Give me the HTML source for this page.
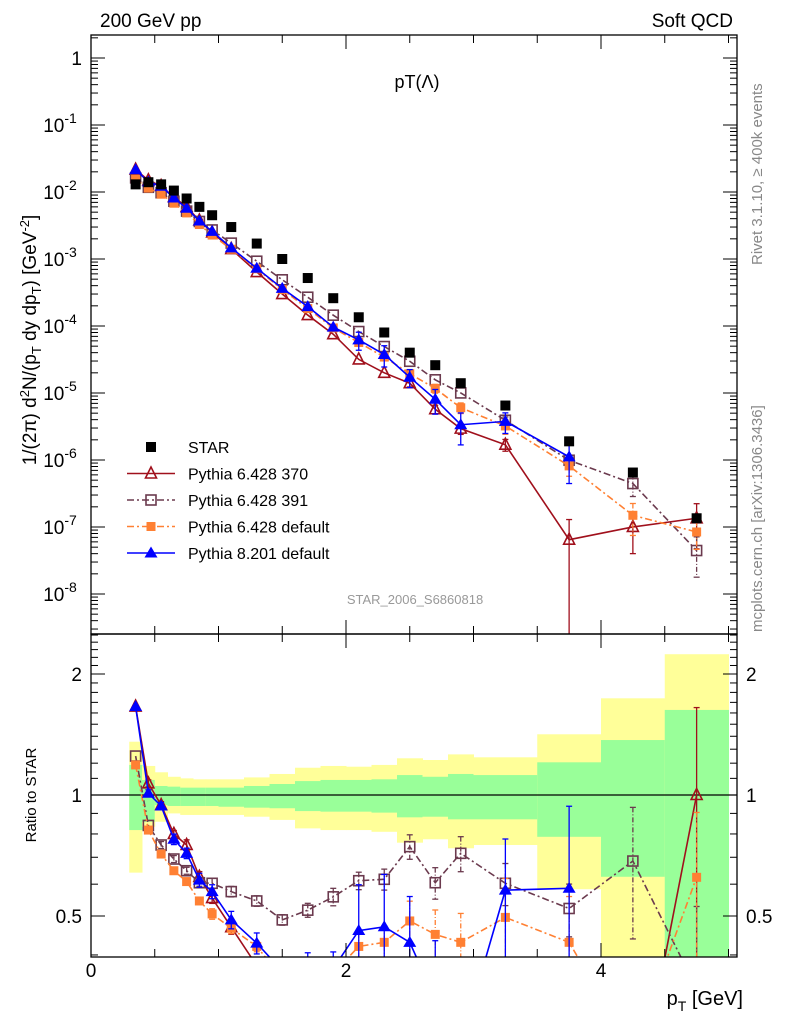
<!DOCTYPE html>
<html><head><meta charset="utf-8"><style>
html,body{margin:0;background:#fff;overflow:hidden;width:786px;height:1024px}
svg{display:block;font-family:"Liberation Sans",sans-serif}
</style></head><body>
<svg id="c" width="786" height="1024" viewBox="0 0 786 1024" xmlns="http://www.w3.org/2000/svg">
<defs>
<clipPath id="cm"><rect x="91" y="35" width="646" height="599"/></clipPath>
<clipPath id="cr"><rect x="91" y="634" width="646" height="323"/></clipPath>
</defs>
<g id="bands" clip-path="url(#cr)"></g>
<g id="ratio" clip-path="url(#cr)"></g>
<g id="main" clip-path="url(#cm)"></g>
<g id="axes"></g>
<text x="100" y="27" font-size="19">200 GeV pp</text>
<text x="733" y="27" font-size="19" text-anchor="end">Soft QCD</text>
<text x="417" y="88" font-size="18" text-anchor="middle">pT(Λ)</text>
<text x="415" y="604" font-size="13" fill="#999" text-anchor="middle">STAR_2006_S6860818</text>
<text transform="translate(762,265) rotate(-90)" font-size="15" fill="#888">Rivet 3.1.10, ≥ 400k events</text>
<text transform="translate(762,632) rotate(-90)" font-size="15" fill="#888">mcplots.cern.ch [arXiv:1306.3436]</text>
<text transform="translate(36,340) rotate(-90)" font-size="19" text-anchor="middle">1/(2π) d<tspan dy="-7" font-size="13">2</tspan><tspan dy="7">N/(p</tspan><tspan dy="5" font-size="13">T</tspan><tspan dy="-5"> dy dp</tspan><tspan dy="5" font-size="13">T</tspan><tspan dy="-5">) [GeV</tspan><tspan dy="-7" font-size="13">-2</tspan><tspan dy="7">]</tspan></text>
<text transform="translate(36,795) rotate(-90)" font-size="15" text-anchor="middle">Ratio to STAR</text>
<text x="743" y="1005" font-size="20" text-anchor="end">p<tspan dy="6" font-size="14">T</tspan><tspan dy="-6"> [GeV]</tspan></text>
<g id="legend"></g>
</svg>
<script>
const pt=[0.35,0.45,0.55,0.65,0.75,0.85,0.95,1.1,1.3,1.5,1.7,1.9,2.1,2.3,2.5,2.7,2.9,3.25,3.75,4.25,4.75];
const binLo=[0.3,0.4,0.5,0.6,0.7,0.8,0.9,1.0,1.2,1.4,1.6,1.8,2.0,2.2,2.4,2.6,2.8,3.0,3.5,4.0,4.5];
const binHi=[0.4,0.5,0.6,0.7,0.8,0.9,1.0,1.2,1.4,1.6,1.8,2.0,2.2,2.4,2.6,2.8,3.0,3.5,4.0,4.5,5.0];
const star=[1.3e-2,1.4e-2,1.3e-2,1.05e-2,8e-3,6e-3,4.5e-3,3e-3,1.7e-3,1.0e-3,5.2e-4,2.6e-4,1.35e-4,8e-5,4e-5,2.6e-5,1.4e-5,6.5e-6,1.9e-6,6.5e-7,1.35e-7];
const greenUp=[1.188,1.09,1.053,1.049,1.043,1.043,1.043,1.043,1.053,1.065,1.083,1.09,1.09,1.094,1.121,1.11,1.128,1.121,1.206,1.37,1.628];
const greenDn=[0.818,0.858,0.944,0.939,0.939,0.939,0.939,0.935,0.93,0.927,0.912,0.909,0.909,0.904,0.88,0.883,0.87,0.87,0.787,0.626,0.2];
const yellowUp=[1.357,1.181,1.139,1.11,1.1,1.094,1.094,1.094,1.106,1.128,1.169,1.181,1.176,1.188,1.234,1.222,1.262,1.241,1.416,1.74,2.24];
const yellowDn=[0.641,0.834,0.858,0.9,0.892,0.892,0.892,0.892,0.883,0.867,0.826,0.818,0.818,0.81,0.761,0.776,0.737,0.751,0.583,0.3,0.2];
const r370=[1.66,1.069,0.944,0.8,0.751,0.626,0.554,0.469,0.376,0.3,0.28,0.29,0.235,0.25,0.35,0.22,0.21,0.26,0.034,0.154,1.0];
const e370=[0.01,0.02,0.02,0.02,0.03,0.03,0.03,0.04,0.05,0.05,0.06,0.07,0.08,0.1,0.12,0.15,0.18,0.2,1.0,0.6,0.65];
const r391=[1.25,0.84,0.751,0.693,0.648,0.605,0.603,0.575,0.545,0.489,0.517,0.558,0.612,0.617,0.744,0.605,0.716,0.603,0.522,0.685,0.33];
const e391=[0.01,0.01,0.02,0.02,0.02,0.02,0.03,0.03,0.03,0.03,0.04,0.05,0.05,0.06,0.07,0.09,0.1,0.12,0.15,0.36,0.6];
const rDef=[1.188,0.818,0.713,0.648,0.609,0.545,0.506,0.466,0.42,0.35,0.35,0.36,0.42,0.43,0.486,0.45,0.43,0.496,0.43,0.23,0.624];
const eDef=[0.01,0.01,0.02,0.02,0.02,0.02,0.03,0.03,0.03,0.04,0.05,0.06,0.08,0.1,0.12,0.15,0.18,0.25,0.3,0.5,0.45];
const r8=[1.66,1.01,0.939,0.776,0.716,0.614,0.575,0.489,0.428,0.365,0.375,0.37,0.46,0.47,0.43,0.31,0.24,0.58,0.586,null,null];
const e8=[0.01,0.02,0.02,0.03,0.03,0.04,0.04,0.05,0.06,0.07,0.08,0.1,0.3,0.35,0.3,0.4,0.5,0.34,0.6,0,0];
const yTickExp=[0,-1,-2,-3,-4,-5,-6,-7,-8];
const ratioTicks=[0.5,1,2];
const xTicks=[0,2,4];

const NS="http://www.w3.org/2000/svg";
const X=v=>91+127.5*v;
const YM=v=>58-67*Math.log10(v);
const YR=r=>795-121*Math.log2(r);
function mk(tag,attrs,parent){const e=document.createElementNS(NS,tag);for(const k in attrs)e.setAttribute(k,attrs[k]);parent.appendChild(e);return e;}
const gB=document.getElementById('bands'),gR=document.getElementById('ratio'),gM=document.getElementById('main'),gA=document.getElementById('axes'),gL=document.getElementById('legend');

for(let i=0;i<pt.length;i++){
  const x0=X(binLo[i]),w=X(binHi[i])-x0;
  let y=mk('rect',{x:x0,y:YR(yellowUp[i]),width:w+0.5,height:YR(yellowDn[i])-YR(yellowUp[i]),fill:'#ffff99'},gB);
  
  
  let g=mk('rect',{x:x0,y:YR(greenUp[i]),width:w+0.5,height:YR(greenDn[i])-YR(greenUp[i]),fill:'#99ff99'},gB);
  
  
}
const one=mk('line',{x1:91,x2:737,y1:YR(1),y2:YR(1),stroke:'#000','stroke-width':1.3},gR);



function marker(type,x,y,color,parent,s){
  let e;
  if(type==='sq') e=mk('rect',{x:x-s,y:y-s,width:2*s,height:2*s,fill:color},parent);
  else if(type==='osq') e=mk('rect',{x:x-s+1,y:y-s+1,width:2*s-2,height:2*s-2,fill:'#fff','fill-opacity':0,stroke:color,'stroke-width':1.6},parent);
  else if(type==='tri') e=mk('polygon',{points:`${x},${y-s} ${x-s},${y+s-2} ${x+s},${y+s-2}`,fill:color},parent);
  else e=mk('polygon',{points:`${x},${y-s} ${x-s+1},${y+s-2} ${x+s-1},${y+s-2}`,fill:'none',stroke:color,'stroke-width':1.6},parent);
  return e;
}
const series=[
 {name:'pythia-6428-370',r:r370,e:e370,color:'#a0101c',dash:'',m:'otri'},
 {name:'pythia-6428-391',r:r391,e:e391,color:'#6b3a4e',dash:'7 3 2 3',m:'osq'},
 {name:'pythia-6428-default',r:rDef,e:eDef,color:'#ff8033',dash:'7 3 2 3',m:'sq'},
 {name:'pythia-8201-default',r:r8,e:e8,color:'#0000ff',dash:'',m:'tri'}
];
function drawSeries(s,panel,Yf,valFn){
  const g=mk('g',{},panel);
  
  
  let pts=[];
  for(let i=0;i<pt.length;i++){ if(s.r[i]==null)continue; pts.push(X(pt[i])+','+Yf(valFn(i))); }
  mk('polyline',{points:pts.join(' '),fill:'none',stroke:s.color,'stroke-width':1.6,'stroke-dasharray':s.dash},g);
  for(let i=0;i<pt.length;i++){
    if(s.r[i]==null)continue;
    const v=valFn(i),x=X(pt[i]);
    const lo=Math.max(v*(1-s.e[i]),1e-12),hi=v*(1+s.e[i]);
    const yl=Yf(lo),yh=Yf(hi);
    if(Math.abs(yl-yh)>6){
      mk('line',{x1:x,x2:x,y1:yh,y2:Math.min(yl,1000),stroke:s.color,'stroke-width':1.3,'stroke-dasharray':s.dash?'5 2 1 2':''},g);
      mk('line',{x1:x-3,x2:x+3,y1:yh,y2:yh,stroke:s.color,'stroke-width':1.3},g);
      if(yl<1000) mk('line',{x1:x-3,x2:x+3,y1:yl,y2:yl,stroke:s.color,'stroke-width':1.3},g);
    }
    const m=marker(s.m,x,Yf(v),s.color,g,s.m==='sq'?4.5:(s.m==='osq'?6:6.5));
    
    
  }
}
for(const s of series){
  drawSeries(s,gR,YR,i=>s.r[i]);
  drawSeries(s,gM,YM,i=>s.r[i]*star[i]);
}
for(let i=0;i<pt.length;i++){
  const m=mk('rect',{x:X(pt[i])-5,y:YM(star[i])-5,width:10,height:10,fill:'#000'},gM);
  
  
}
const f1=mk('rect',{x:91,y:35,width:646,height:599,fill:'none',stroke:'#000','stroke-width':1.3},gA);


const f2=mk('rect',{x:91,y:634,width:646,height:323,fill:'none',stroke:'#000','stroke-width':1.3},gA);


for(let ex=0;ex>=-9;ex--){
  for(let k=1;k<=9;k++){
    const v=k*Math.pow(10,ex),y=YM(v);
    if(y<35||y>634)continue;
    const L=k===1?14:7;
    mk('line',{x1:91,x2:91+L,y1:y,y2:y,stroke:'#000'},gA);
    mk('line',{x1:737,x2:737-L,y1:y,y2:y,stroke:'#000'},gA);
  }
}
for(const ex of yTickExp){
  const t=mk('text',{x:ex===0?82:60,y:YM(Math.pow(10,ex))+7,'font-size':19,'text-anchor':ex===0?'end':'middle'},gA);
  
  
  if(ex===0)t.textContent='1';
  else t.innerHTML='10<tspan dy="-9" font-size="14">'+ex+'</tspan>';
}
for(let r=0.4;r<2.55;r+=0.1){
  const y=YR(r);if(y<634||y>957)continue;
  const maj=[0.5,1,2].some(q=>Math.abs(q-r)<1e-6);
  const L=maj?14:7;
  mk('line',{x1:91,x2:91+L,y1:y,y2:y,stroke:'#000'},gA);
  mk('line',{x1:737,x2:737-L,y1:y,y2:y,stroke:'#000'},gA);
}
for(const r of ratioTicks){
  const a=mk('text',{x:82,y:YR(r)+7,'font-size':19,'text-anchor':'end'},gA);
  a.textContent=r;
  
  
  const b=mk('text',{x:746,y:YR(r)+7,'font-size':19},gA);
  b.textContent=r;
  
  
}
for(let v=0;v<=5.01;v+=0.5){
  const x=X(v),maj=Math.abs(v%2)<1e-6;const L=maj?14:8;
  for(const [yb,d] of [[957,-1],[634,-1],[634,1],[35,1]]){
    mk('line',{x1:x,x2:x,y1:yb,y2:yb+d*L,stroke:'#000'},gA);
  }
}
for(const v of xTicks){
  const t=mk('text',{x:X(v),y:977,'font-size':19,'text-anchor':'middle'},gA);
  t.textContent=v;
  
  
}
const leg=[['STAR','#000','','sq'],['Pythia 6.428 370','#a0101c','','otri'],['Pythia 6.428 391','#6b3a4e','7 3 2 3','osq'],['Pythia 6.428 default','#ff8033','7 3 2 3','sq'],['Pythia 8.201 default','#0000ff','','tri']];
leg.forEach((l,i)=>{
  const y=447+i*26.5;
  const g=mk('g',{},gL);
  
  
  if(i>0) mk('line',{x1:127,x2:175,y1:y,y2:y,stroke:l[1],'stroke-width':1.6,'stroke-dasharray':l[2]},g);
  marker(l[3],151,y,l[1],g,i===0?5:(l[3]==='sq'?4.5:(l[3]==='osq'?6:6.5)));
  const t=mk('text',{x:188,y:y+6,'font-size':16},g);
  t.textContent=l[0];
});
</script>
</body></html>
